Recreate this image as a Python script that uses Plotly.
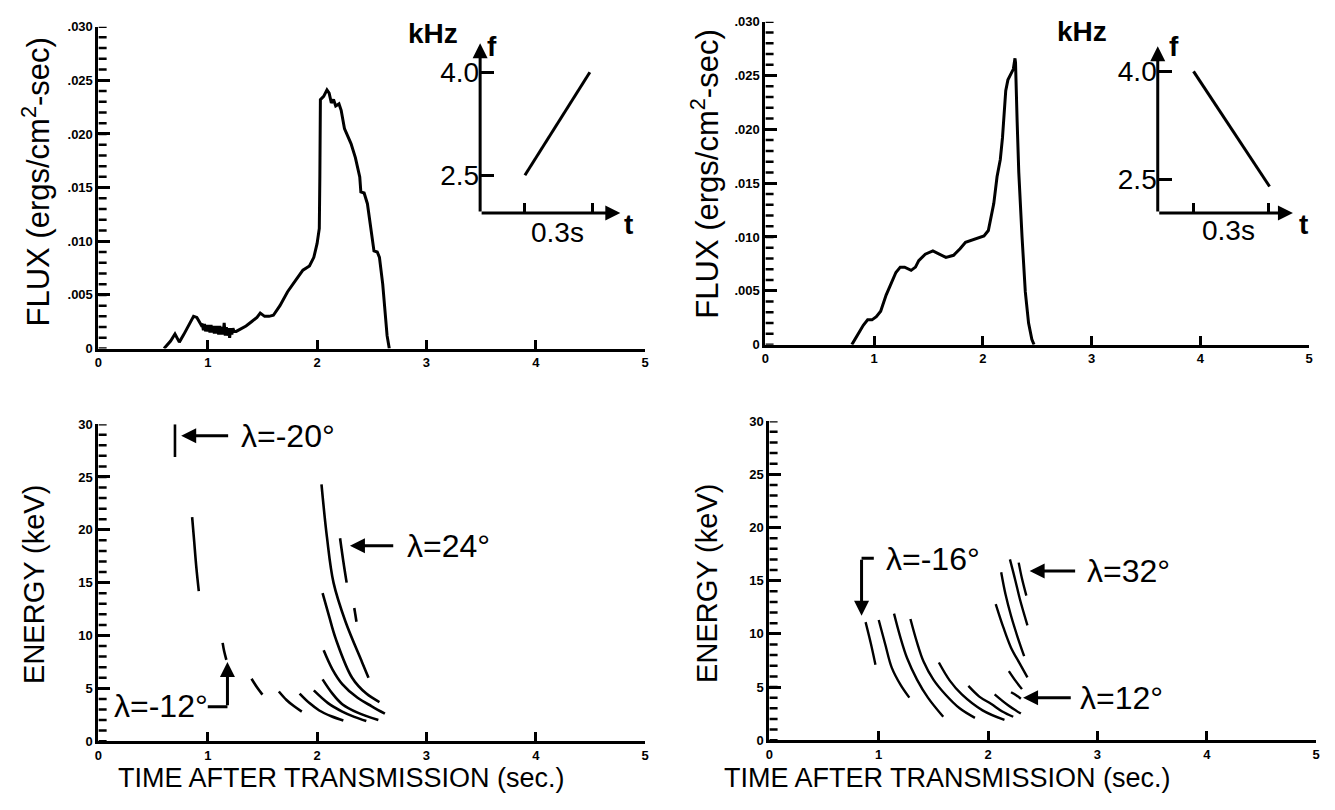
import plotly.graph_objects as go

# ---------------- data ----------------
X_TICKS = [0, 1, 2, 3, 4, 5]
X_TICK_LABELS = ["0", "1", "2", "3", "4", "5"]
FLUX_TICKS = [0, 0.005, 0.010, 0.015, 0.020, 0.025, 0.030]
FLUX_TICK_LABELS = ["0", ".005", ".010", ".015", ".020", ".025", ".030"]
ENERGY_TICKS = [0, 5, 10, 15, 20, 25, 30]
ENERGY_TICK_LABELS = ["0", "5", "10", "15", "20", "25", "30"]

# top-left flux (rising-frequency transmission)
flux_l_t = [0.60, 0.66, 0.70, 0.72, 0.74, 0.78, 0.83, 0.87, 0.90, 0.92, 0.94,
            0.95, 0.96, 0.97, 0.98, 0.99, 1.00, 1.01, 1.02, 1.03, 1.04, 1.05, 1.06,
            1.07, 1.08, 1.09, 1.10, 1.11, 1.12, 1.13, 1.14, 1.15, 1.16, 1.17, 1.18,
            1.19, 1.20, 1.21, 1.22, 1.23, 1.24,
            1.26, 1.30, 1.35, 1.40, 1.45, 1.48, 1.52, 1.56, 1.60, 1.66, 1.73, 1.80,
            1.87, 1.93, 1.97, 2.00, 2.02, 2.025, 2.03, 2.06, 2.09, 2.11, 2.13, 2.15,
            2.17, 2.20, 2.22, 2.25, 2.28, 2.31, 2.35, 2.39, 2.40, 2.43, 2.46, 2.50,
            2.52, 2.55, 2.57, 2.60, 2.62, 2.64, 2.66]
flux_l_v = [0.0, 0.0007, 0.00135, 0.0009, 0.0006, 0.0013, 0.0022, 0.0030, 0.0029, 0.0025, 0.0022,
            0.0023, 0.0017, 0.0023, 0.0016, 0.0022, 0.0016, 0.0022, 0.0015, 0.0022, 0.0015, 0.0021, 0.0014,
            0.0021, 0.0014, 0.0021, 0.0013, 0.0021, 0.0013, 0.0020, 0.0013, 0.0024, 0.0012, 0.0020, 0.0012,
            0.0019, 0.0010, 0.0019, 0.0013, 0.0019, 0.0016,
            0.0016, 0.0018, 0.0021, 0.0025, 0.0029, 0.0033, 0.0030, 0.0030, 0.0031, 0.0040, 0.0053, 0.0063,
            0.0073, 0.0077, 0.0085, 0.0098, 0.0112, 0.0160, 0.0232, 0.0235, 0.0241, 0.0238, 0.0229, 0.0232,
            0.0226, 0.0228, 0.0222, 0.0205, 0.0198, 0.0191, 0.0178, 0.0160, 0.0146, 0.0145, 0.0135, 0.0105,
            0.0091, 0.0090, 0.0085, 0.0060, 0.0035, 0.0012, 0.0]

# top-right flux (falling-frequency transmission)
flux_r_t = [0.795, 0.85, 0.90, 0.94, 0.98, 1.02, 1.06, 1.11, 1.16, 1.20, 1.24, 1.28, 1.34,
            1.38, 1.41, 1.47, 1.54, 1.60, 1.66, 1.73, 1.79, 1.84, 1.90, 1.96, 2.01, 2.05,
            2.07, 2.10, 2.13, 2.16, 2.18, 2.21, 2.23, 2.25, 2.28, 2.295, 2.30, 2.315,
            2.33, 2.36, 2.39, 2.42, 2.45, 2.47]
flux_r_v = [0.0, 0.0009, 0.0018, 0.0023, 0.0023, 0.0026, 0.0031, 0.0046, 0.0058, 0.0067, 0.0072, 0.0072, 0.0069,
            0.0072, 0.0078, 0.0084, 0.0087, 0.0084, 0.0081, 0.0083, 0.0089, 0.0095, 0.0097, 0.0099, 0.0101, 0.0106,
            0.0115, 0.0131, 0.0156, 0.0172, 0.0192, 0.0236, 0.0246, 0.0250, 0.0256, 0.0266, 0.0262, 0.0207,
            0.0160, 0.0100, 0.0049, 0.0020, 0.0005, 0.0]

# bottom-left energy-time traces (one list per trace)
energy_l_t = [
    [0.70, 0.70],
    [0.857, 0.875, 0.895, 0.918],
    [1.136, 1.15, 1.17],
    [1.40, 1.45, 1.50],
    [1.65, 1.72, 1.79, 1.86],
    [1.84, 1.93, 2.02, 2.13, 2.24],
    [1.97, 2.10, 2.23, 2.34, 2.45],
    [2.05, 2.14, 2.23, 2.37, 2.56],
    [2.06, 2.14, 2.23, 2.37, 2.50, 2.62],
    [2.05, 2.11, 2.17, 2.32, 2.45, 2.57],
    [2.04, 2.09, 2.15, 2.26, 2.41, 2.47],
    [2.21, 2.24, 2.27],
    [2.34, 2.36],
]
energy_l_e = [
    [26.9, 30.0],
    [21.2, 19.0, 16.5, 14.2],
    [9.3, 8.5, 7.7],
    [5.9, 5.1, 4.4],
    [4.7, 3.9, 3.3, 2.8],
    [4.5, 3.6, 2.9, 2.35, 1.95],
    [4.8, 3.6, 2.8, 2.3, 1.9],
    [5.85, 4.5, 3.5, 2.7, 2.0],
    [8.6, 6.8, 5.4, 4.1, 3.3, 2.6],
    [14.0, 11.8, 9.7, 6.0, 4.5, 3.7],
    [24.3, 19.3, 15.0, 11.3, 7.5, 6.0],
    [19.2, 17.0, 15.0],
    [12.6, 11.3],
]

# bottom-right energy-time traces
energy_r_t = [
    [0.88, 0.93, 0.97],
    [1.00, 1.06, 1.12, 1.20, 1.28],
    [1.14, 1.20, 1.26, 1.35, 1.45, 1.59],
    [1.29, 1.35, 1.41, 1.50, 1.61, 1.74, 1.88],
    [1.55, 1.65, 1.76, 1.95, 2.15],
    [1.82, 1.92, 2.03, 2.13, 2.23],
    [2.06, 2.18, 2.30],
    [2.21, 2.26, 2.30],
    [2.12, 2.16, 2.21, 2.27, 2.33],
    [2.20, 2.25, 2.29, 2.36],
    [2.28, 2.31, 2.35],
    [2.07, 2.14, 2.21, 2.29, 2.36],
    [2.19, 2.25, 2.31],
]
energy_r_e = [
    [11.1, 9.0, 7.1],
    [11.3, 9.0, 6.8, 5.2, 4.0],
    [11.9, 9.6, 7.7, 5.7, 4.0, 2.2],
    [11.4, 9.2, 7.4, 5.7, 4.3, 3.0, 2.1],
    [7.3, 5.6, 4.3, 2.8, 1.9],
    [5.1, 4.1, 3.4, 2.7, 2.2],
    [4.3, 3.3, 2.5],
    [4.5, 4.2, 3.9],
    [15.8, 13.7, 11.7, 9.7, 7.9],
    [17.0, 15.0, 13.3, 10.8],
    [16.7, 15.2, 13.6],
    [12.8, 10.6, 8.7, 7.2, 5.9],
    [6.5, 5.6, 4.8],
]

# inset frequency-time sketches (kHz vs s)
inset_l_t = [0.0, 0.29]
inset_l_f = [2.5, 4.0]
inset_r_t = [0.0, 0.306]
inset_r_f = [4.0, 2.4]
INSET_TICKS_T = [0.0, 0.3]
INSET_TICKS_F = [2.5, 4.0]
INSET_TICK_LABELS_F = ["2.5", "4.0"]

# ---------------- figure ----------------
W, H = 1335, 810
FONT = "Liberation Sans"
BLACK = "black"


def px(x):
    return x / W


def py(y):
    return 1 - y / H


fig = go.Figure()

fig.add_trace(go.Scatter(x=flux_l_t, y=flux_l_v, mode="lines", xaxis="x", yaxis="y",
                         line=dict(color=BLACK, width=3), showlegend=False))
fig.add_trace(go.Scatter(x=flux_r_t, y=flux_r_v, mode="lines", xaxis="x2", yaxis="y2",
                         line=dict(color=BLACK, width=3), showlegend=False))
for ts, es in zip(energy_l_t, energy_l_e):
    fig.add_trace(go.Scatter(x=ts, y=es, mode="lines", xaxis="x3", yaxis="y3",
                             line=dict(color=BLACK, width=2.6, shape="spline"), showlegend=False))
for ts, es in zip(energy_r_t, energy_r_e):
    fig.add_trace(go.Scatter(x=ts, y=es, mode="lines", xaxis="x4", yaxis="y4",
                             line=dict(color=BLACK, width=2.4, shape="spline"), showlegend=False))
fig.add_trace(go.Scatter(x=inset_l_t, y=inset_l_f, mode="lines", xaxis="x5", yaxis="y5",
                         line=dict(color=BLACK, width=3), showlegend=False))
fig.add_trace(go.Scatter(x=inset_r_t, y=inset_r_f, mode="lines", xaxis="x6", yaxis="y6",
                         line=dict(color=BLACK, width=3), showlegend=False))

tickfont = dict(family=FONT, size=13, color=BLACK, weight="bold")


def xaxis(domain, anchor):
    return dict(domain=domain, anchor=anchor, range=[0, 5], showline=True, linewidth=3,
                linecolor=BLACK, ticks="inside", ticklen=9, tickwidth=3, tickcolor=BLACK,
                tickvals=X_TICKS, ticktext=X_TICK_LABELS, tickfont=tickfont,
                showgrid=False, zeroline=False, fixedrange=True)


def yaxis(domain, anchor, rng, vals, labels):
    return dict(domain=domain, anchor=anchor, range=rng, showline=True, linewidth=3,
                linecolor=BLACK, ticks="inside", ticklen=12, tickwidth=3, tickcolor=BLACK,
                tickvals=vals, ticktext=labels, tickfont=tickfont,
                showgrid=False, zeroline=False, fixedrange=True)


def inset_x(domain, anchor, rng):
    return dict(domain=domain, anchor=anchor, range=rng, showline=False, ticks="inside",
                tickvals=INSET_TICKS_T, ticklen=10, tickwidth=3, tickcolor=BLACK,
                showticklabels=False, showgrid=False, zeroline=False, fixedrange=True)


def inset_y(domain, anchor, rng):
    return dict(domain=domain, anchor=anchor, range=rng, showline=False, ticks="inside",
                tickvals=INSET_TICKS_F, ticktext=INSET_TICK_LABELS_F, ticklen=14, tickwidth=3,
                tickcolor=BLACK, tickfont=dict(family=FONT, size=28, color=BLACK),
                showgrid=False, zeroline=False, fixedrange=True)


L_RNG = [-0.2, 0.426]
L_FRNG = [1.95, 4.42]
R_RNG = [-0.144, 0.40]
R_FRNG = [2.03, 4.35]

fig.update_layout(
    width=W, height=H, margin=dict(l=0, r=0, t=0, b=0),
    paper_bgcolor="white", plot_bgcolor="white", showlegend=False,
    xaxis=xaxis([px(95), px(645)], "y"),
    yaxis=yaxis([py(348), py(20)], "x", [0, 0.030], FLUX_TICKS, FLUX_TICK_LABELS),
    xaxis2=xaxis([px(766), px(1313)], "y2"),
    yaxis2=yaxis([py(344), py(15)], "x2", [0, 0.030], FLUX_TICKS, FLUX_TICK_LABELS),
    xaxis3=xaxis([px(95), px(645)], "y3"),
    yaxis3=yaxis([py(748), py(425)], "x3", [0, 30], ENERGY_TICKS, ENERGY_TICK_LABELS),
    xaxis4=xaxis([px(770), px(1320)], "y4"),
    yaxis4=yaxis([py(747), py(422)], "x4", [0, 30], ENERGY_TICKS, ENERGY_TICK_LABELS),
    xaxis5=inset_x([px(479), px(620)], "y5", L_RNG),
    yaxis5=inset_y([py(210), py(37)], "x5", L_FRNG),
    xaxis6=inset_x([px(1160.7), px(1296.7)], "y6", R_RNG),
    yaxis6=inset_y([py(210), py(40)], "x6", R_FRNG),
)

ann = []


def arrow(xr, yr, x, y, ax, ay, width=3):
    ann.append(dict(x=x, y=y, ax=ax, ay=ay, xref=xr, yref=yr, axref=xr, ayref=yr, text="",
                    showarrow=True, arrowhead=2, arrowsize=1, arrowwidth=width, arrowcolor=BLACK))


def label(xr, yr, x, y, text, size=32, xanchor="left"):
    ann.append(dict(x=x, y=y, xref=xr, yref=yr, text=text, showarrow=False, xanchor=xanchor,
                    yanchor="middle", font=dict(family=FONT, size=size, color=BLACK)))


def paper_text(x, y, text, font, angle=0):
    ann.append(dict(x=px(x), y=py(y), xref="paper", yref="paper", text=text, showarrow=False,
                    xanchor="center", yanchor="middle", textangle=angle, font=font))


# inset axes with arrowheads
arrow("x5", "y5", L_RNG[1], L_FRNG[0], L_RNG[0], L_FRNG[0])
arrow("x5", "y5", L_RNG[0], L_FRNG[1], L_RNG[0], L_FRNG[0])
arrow("x6", "y6", R_RNG[1], R_FRNG[0], R_RNG[0], R_FRNG[0])
arrow("x6", "y6", R_RNG[0], R_FRNG[1], R_RNG[0], R_FRNG[0])

bold = dict(family=FONT, size=28, color=BLACK, weight="bold")
for x, y, t in [(432, 27, "kHz"), (491, 40, "f"), (628, 222, "t"),
                (1085, 25, "kHz"), (1177, 40, "f"), (1307, 222, "t")]:
    paper_text(x, y, t, bold)
for x, y in [(557, 230), (1232, 228)]:
    paper_text(x, y, "0.3s", dict(family=FONT, size=28, color=BLACK))

# bottom-left lambda labels
label("x3", "y3", 1.29, 28.9, "λ=-20°")
arrow("x3", "y3", 0.757, 28.9, 1.20, 28.9)
label("x3", "y3", 2.80, 18.5, "λ=24°")
arrow("x3", "y3", 2.30, 18.5, 2.71, 18.5)
label("x3", "y3", 0.12, 3.3, "λ=-12°")
arrow("x3", "y3", 1.18, 7.5, 1.18, 3.25)

# bottom-right lambda labels
label("x4", "y4", 1.045, 17.0, "λ=-16°")
arrow("x4", "y4", 0.843, 11.7, 0.843, 17.1)
label("x4", "y4", 2.89, 15.9, "λ=32°")
arrow("x4", "y4", 2.38, 15.9, 2.81, 15.9)
label("x4", "y4", 2.82, 4.0, "λ=12°")
arrow("x4", "y4", 2.32, 4.0, 2.77, 4.0)

# axis titles
flux_title = "FLUX (ergs/cm<sup>2</sup>-sec)"
paper_text(32, 178, flux_title, dict(family=FONT, size=31, color=BLACK), -90)
paper_text(705, 170, flux_title, dict(family=FONT, size=31, color=BLACK), -90)
paper_text(30, 588, "ENERGY (keV)", dict(family=FONT, size=29, color=BLACK), -90)
paper_text(707, 587, "ENERGY (keV)", dict(family=FONT, size=29, color=BLACK), -90)
paper_text(340, 786, "TIME AFTER TRANSMISSION (sec.)", dict(family=FONT, size=27, color=BLACK))
paper_text(949, 786, "TIME AFTER TRANSMISSION (sec.)", dict(family=FONT, size=27, color=BLACK))

shapes = [
    dict(type="line", xref="x3", yref="y3", x0=1.0, x1=1.18, y0=3.25, y1=3.25,
         line=dict(color=BLACK, width=3)),
    dict(type="line", xref="x4", yref="y4", x0=0.955, x1=0.843, y0=17.1, y1=17.1,
         line=dict(color=BLACK, width=3)),
]

# minor tick marks along the y axes (every .001 flux, every 1 keV), in axis data units
for xid, yid, step, n in [("x", "y", 0.001, 30), ("x2", "y2", 0.001, 30),
                          ("x3", "y3", 1, 30), ("x4", "y4", 1, 30)]:
    for i in range(n + 1):
        v = i * step
        shapes.append(dict(type="line", xref=xid, yref=yid, x0=0, x1=0.075,
                           y0=v, y1=v, layer="above", line=dict(color=BLACK, width=2.5)))

fig.update_layout(annotations=ann, shapes=shapes)
fig.write_html("out.html", config={"displayModeBar": False},
               post_script="document.body.style.margin='0';document.body.style.overflow='hidden';")
